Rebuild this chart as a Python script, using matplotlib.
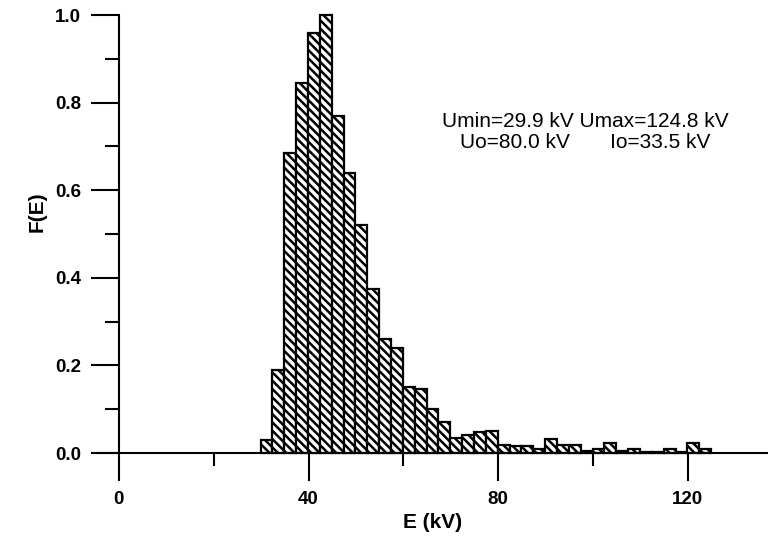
import numpy as np
import matplotlib
matplotlib.use("Agg")
import matplotlib.pyplot as plt
from matplotlib.ticker import MultipleLocator

# Histogram of energies, bins of ~2.5 kV starting at Umin
bin_start = 29.9
bin_width = 2.5
heights = [0.03, 0.19, 0.685, 0.845, 0.96, 1.0, 0.77, 0.64, 0.52, 0.375,
           0.26, 0.24, 0.15, 0.147, 0.10, 0.07, 0.035, 0.04, 0.047, 0.05,
           0.018, 0.016, 0.016, 0.01, 0.033, 0.018, 0.018, 0.005, 0.01, 0.022,
           0.005, 0.008, 0.003, 0.003, 0.009, 0.003, 0.022, 0.01]
x_major = [0, 40, 80, 120]
y_major = [0.0, 0.2, 0.4, 0.6, 0.8, 1.0]
y_labels = ["0.0", "0.2", "0.4", "0.6", "0.8", "1.0"]
info_line1 = "Umin=29.9 kV Umax=124.8 kV"
info_line2 = "Uo=80.0 kV       Io=33.5 kV"

plt.rcParams['font.family'] = ['Liberation Sans', 'DejaVu Sans']
plt.rcParams['hatch.linewidth'] = 1.8

fig = plt.figure(figsize=(7.68, 5.36), dpi=100)
ax = fig.add_axes([98 / 768, 83 / 536, 670 / 768, 438 / 536])

edges = bin_start + bin_width * np.arange(len(heights))
ax.bar(edges, heights, width=bin_width, align='edge', color='white',
       edgecolor='black', linewidth=1.6, hatch='\\\\\\\\', clip_on=False)

ax.set_xlim(-4.4, 136.9)
ax.set_ylim(0, 1.0)

ax.spines['top'].set_visible(False)
ax.spines['right'].set_visible(False)
ax.spines['left'].set_position(('data', 0))
ax.spines['left'].set_linewidth(1.5)
ax.spines['bottom'].set_linewidth(1.5)

ax.set_xticks(x_major)
ax.xaxis.set_minor_locator(MultipleLocator(20))
ax.set_yticks(y_major)
ax.set_yticklabels(y_labels)
ax.yaxis.set_minor_locator(MultipleLocator(0.1))

ax.tick_params(axis='x', which='major', length=20, width=1.5, direction='out',
               labelsize=13.5, pad=7)
ax.tick_params(axis='x', which='minor', length=9, width=1.5, direction='out')
ax.tick_params(axis='y', which='major', length=20, width=1.5, direction='out',
               labelsize=13.5, pad=7)
ax.tick_params(axis='y', which='minor', length=10, width=1.5, direction='out')
for lbl in ax.get_xticklabels() + ax.get_yticklabels():
    lbl.set_fontweight('bold')

ax.set_xlabel("E (kV)", fontsize=15, fontweight='bold', labelpad=4)
fig.text(37 / 768, 1 - 212 / 536, "F(E)", rotation=90, fontsize=15,
         fontweight='bold', ha='center', va='center')

ax.text(0.727, 0.756, info_line1, transform=ax.transAxes, fontsize=15,
        ha='center', va='center')
ax.text(0.727, 0.708, info_line2, transform=ax.transAxes, fontsize=15,
        ha='center', va='center')

fig.savefig("out.png", dpi=100)
